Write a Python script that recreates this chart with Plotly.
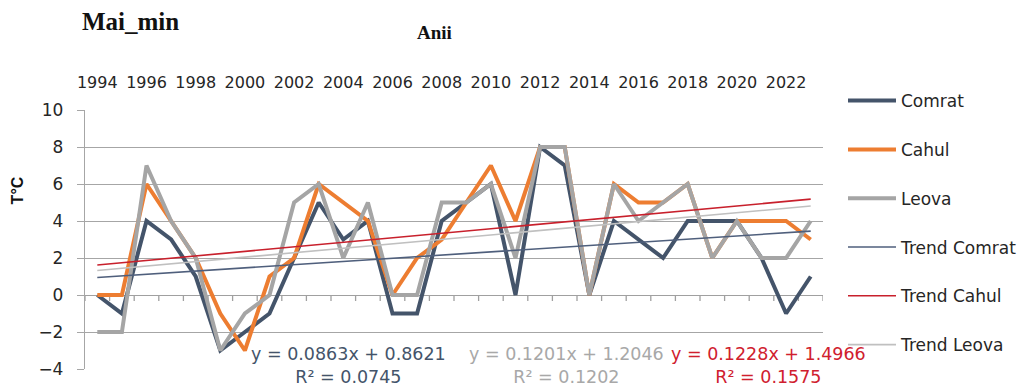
import numpy as np
import plotly.graph_objects as go

# Minimum May temperatures (°C), 1994-2023
years = list(range(1994, 2024))
comrat = [0, -1, 4, 3, 1, -3, -2, -1, 2, 5, 3, 4, -1, -1, 4, 5, 6, 0, 8, 7,
          0, 4, 3, 2, 4, 4, 4, 2, -1, 1]
cahul = [0, 0, 6, 4, 2, -1, -3, 1, 2, 6, 5, 4, 0, 2, 3, 5, 7, 4, 8, 8,
         0, 6, 5, 5, 6, 2, 4, 4, 4, 3]
leova = [-2, -2, 7, 4, 2, -3, -1, 0, 5, 6, 2, 5, 0, 0, 5, 5, 6, 2, 8, 8,
         0, 6, 4, 5, 6, 2, 4, 2, 2, 4]
y_ticks = [-4, -2, 0, 2, 4, 6, 8, 10]

series = [
    ("Comrat", comrat, "#44546a"),
    ("Cahul", cahul, "#ed7d31"),
    ("Leova", leova, "#a5a5a5"),
]
trend_colors = {"Comrat": "#4f5f7c", "Cahul": "#c8202c", "Leova": "#c0c0c0"}
eq_colors = {"Comrat": "#44546a", "Cahul": "#d0202e", "Leova": "#a8a8a8"}
# label centres (paper x) for the regression equations
eq_pos = {"Comrat": 0.357, "Leova": 0.652, "Cahul": 0.926}

LBL = "DejaVu Sans"

fig = go.Figure()
for i, (name, vals, col) in enumerate(series):
    fig.add_trace(go.Scatter(
        x=years, y=vals, name=name, mode="lines",
        line=dict(color=col, width=4), legendgroup=name, legendrank=i + 1,
    ))

# linear trends over the index 1..N, as in a spreadsheet trendline
idx = np.arange(1, len(years) + 1)
for i, (name, vals, col) in enumerate(series):
    slope, icpt = np.polyfit(idx, vals, 1)
    fit = slope * idx + icpt
    resid = np.array(vals) - fit
    r2 = 1 - (resid ** 2).sum() / ((np.array(vals) - np.mean(vals)) ** 2).sum()
    fig.add_trace(go.Scatter(
        x=years, y=fit, name="Trend " + name, mode="lines",
        line=dict(color=trend_colors[name], width=1.6),
        legendgroup="t" + name, legendrank=i + 4,
    ))
    fig.add_annotation(
        xref="paper", yref="paper", x=eq_pos[name], y=0.015,
        xanchor="center", yanchor="middle", showarrow=False, align="center",
        text=f"y = {slope:.4f}x + {icpt:.4f}<br>R² = {r2:.4f}",
        font=dict(family=LBL, size=17.5, color=eq_colors[name]),
    )

# small tick marks on the horizontal zero axis, between categories
bounds = [y - 0.5 for y in years] + [years[-1] + 0.5]
for b in bounds:
    fig.add_shape(type="line", xref="x", yref="y", x0=b, x1=b,
                  ysizemode="pixel", yanchor=0, y0=0, y1=-6,
                  line=dict(color="#a0a0a0", width=1.3), layer="below")

fig.add_annotation(xref="paper", yref="paper", x=-0.007, y=1.34,
                   xanchor="left", yanchor="middle", showarrow=False,
                   text="<b>Mai_min</b>",
                   font=dict(family="Liberation Serif", size=25, color="#111"))
fig.add_annotation(xref="paper", yref="paper", x=0.473, y=1.30,
                   xanchor="center", yanchor="middle", showarrow=False,
                   text="<b>Anii</b>",
                   font=dict(family="Liberation Serif", size=19, color="#111"))
fig.add_annotation(xref="paper", yref="paper", x=-0.092, y=0.69,
                   xanchor="center", yanchor="middle", showarrow=False,
                   textangle=-90, text="<b>T°C</b>",
                   font=dict(family="Liberation Sans", size=16, color="#111"))

fig.update_layout(
    width=1024, height=390,
    margin=dict(l=85, r=201, t=110, b=21),
    paper_bgcolor="white", plot_bgcolor="white",
    font=dict(family=LBL, color="#333"),
    showlegend=True,
    legend=dict(x=843 / 1024, y=0.787, xref="container", yref="container",
                xanchor="left", yanchor="top",
                font=dict(family=LBL, size=17, color="#262626"),
                tracegroupgap=23.7, bgcolor="rgba(0,0,0,0)",
                itemwidth=48, maxheight=390),
    xaxis=dict(
        range=[years[0] - 0.5, years[-1] + 0.5], side="top",
        tickvals=years[::2], ticktext=[str(y) for y in years[::2]],
        showgrid=False, zeroline=False, showline=False, ticks="",
        ticklabelstandoff=18,
        tickfont=dict(family=LBL, size=16, color="#262626"),
    ),
    yaxis=dict(
        range=[-4, 10], tickvals=y_ticks,
        showgrid=True, gridcolor="#a6a6a6", gridwidth=1.3,
        zeroline=True, zerolinecolor="#a0a0a0", zerolinewidth=1.3,
        showline=True, linecolor="#a6a6a6", linewidth=1.3,
        ticks="outside", ticklen=7, tickcolor="#a6a6a6", tickwidth=1.3,
        ticklabelstandoff=10,
        tickfont=dict(family=LBL, size=17, color="#262626"),
    ),
)

fig.write_html("out.html")
